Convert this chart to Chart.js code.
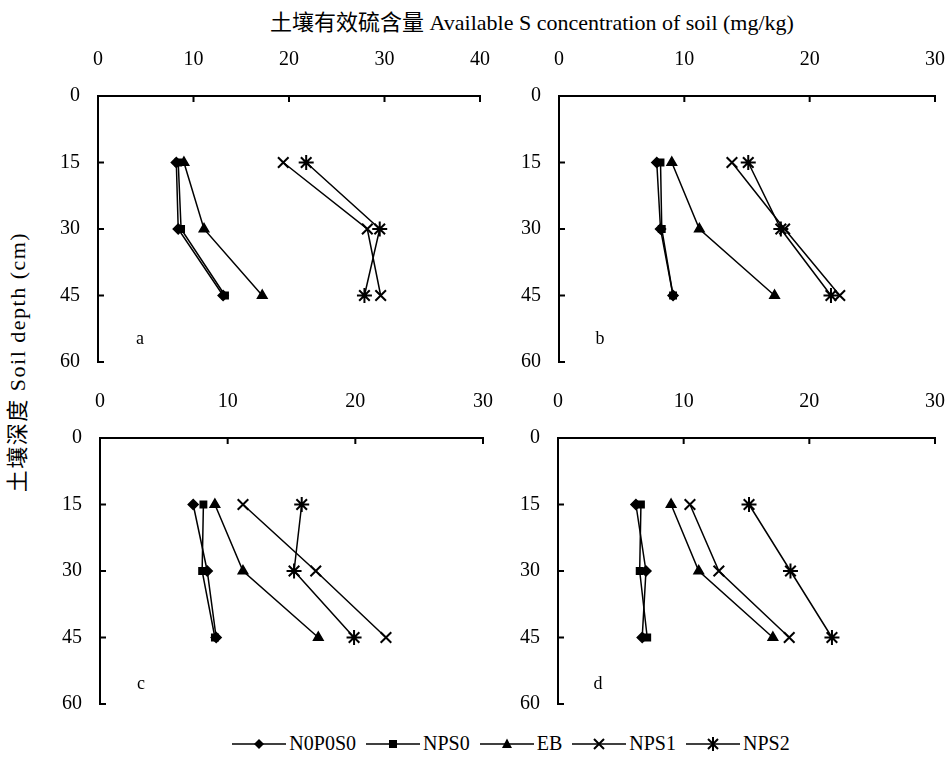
<!DOCTYPE html>
<html>
<head>
<meta charset="utf-8">
<script src="https://cdn.jsdelivr.net/npm/chart.js@4.4.1/dist/chart.umd.min.js"></script>
<style>
  body { margin: 0; background: #fff; width: 950px; height: 762px; position: relative; overflow: hidden;
         font-family: "Liberation Serif", "Times New Roman", Tinos, "DejaVu Serif", "Noto Sans CJK SC", serif; color: #000; }
  canvas { position: absolute; }
  .txt { position: absolute; white-space: nowrap; font-size: 18px; }
  #title { left: 0; width: 1064px; top: 4px; text-align: center; font-size: 22px; }
  #ytitle { left: 15px; top: 362px; transform: translate(-50%, -50%) rotate(-90deg); font-size: 22px; letter-spacing: 1.5px; }
  .tag { transform: translate(-50%, -50%); }
  #legend { position: absolute; left: 0; width: 1022px; top: 732px; display: flex; justify-content: center;
            gap: 10px; font-size: 20px; align-items: center; }
  #legend span { display: inline-flex; align-items: center; gap: 3px; }
</style>
</head>
<body>
<div class="txt" id="title">土壤有效硫含量 Available S concentration of soil (mg/kg)</div>
<div class="txt" id="ytitle">土壤深度 Soil depth (cm)</div>
<canvas id="pa"></canvas>
<canvas id="pb"></canvas>
<canvas id="pc"></canvas>
<canvas id="pd"></canvas>
<div class="txt tag" style="left:140px;top:338px">a</div>
<div class="txt tag" style="left:600px;top:338px">b</div>
<div class="txt tag" style="left:141px;top:683px">c</div>
<div class="txt tag" style="left:598px;top:683px">d</div>
<div id="legend"></div>
<script>
// soil depth (cm) and treatments
const depths = [15, 30, 45];
const seriesNames = ["N0P0S0", "NPS0", "EB", "NPS1", "NPS2"];
const depthTicks = [0, 15, 30, 45, 60];

// available S (mg/kg), one row per treatment, same order as seriesNames
const panelA = [[8.2, 8.4, 13.1], [8.4, 8.7, 13.3], [9.0, 11.1, 17.2], [19.4, 28.2, 29.6], [21.8, 29.5, 27.9]];
const panelB = [[7.8, 8.1, 9.1], [8.1, 8.2, 9.1], [9.0, 11.2, 17.2], [13.8, 18.0, 22.4], [15.1, 17.7, 21.7]];
const panelC = [[7.3, 8.4, 9.1], [8.1, 8.0, 9.0], [9.0, 11.2, 17.1], [11.2, 16.9, 22.4], [15.8, 15.2, 19.9]];
const panelD = [[6.2, 7.0, 6.7], [6.6, 6.5, 7.1], [9.0, 11.2, 17.1], [10.5, 12.8, 18.4], [15.2, 18.5, 21.8]];

const markers = [
  { pointStyle: "rectRot", pointRadius: 5, borderWidth: 1.5 },
  { pointStyle: "rect", pointRadius: 4.5, borderWidth: 1.5 },
  { pointStyle: "triangle", pointRadius: 5.5, borderWidth: 1.5 },
  { pointStyle: "crossRot", pointRadius: 7.5, borderWidth: 2 },
  { pointStyle: "star", pointRadius: 7.5, borderWidth: 2 }
];

const FONT = { family: "'Liberation Serif', 'Times New Roman', Tinos, 'DejaVu Serif', serif", size: 20 };
const Y_W = 60, X_H = 50;

// tick marks pointing into the plot, like the original
const innerTicks = {
  id: "innerTicks",
  afterDraw(chart) {
    const { ctx, chartArea, scales } = chart;
    ctx.save();
    ctx.strokeStyle = "#000";
    ctx.lineWidth = 2;
    ctx.beginPath();
    scales.x.ticks.forEach(t => {
      const px = scales.x.getPixelForValue(t.value);
      ctx.moveTo(px, chartArea.top); ctx.lineTo(px, chartArea.top + 6);
    });
    scales.y.ticks.forEach(t => {
      const py = scales.y.getPixelForValue(t.value);
      ctx.moveTo(chartArea.left, py); ctx.lineTo(chartArea.left + 6, py);
    });
    ctx.stroke();
    ctx.restore();
  }
};

function makePanel(id, rows, xMax, area) {
  const [L, T, R, B] = area;
  const cv = document.getElementById(id);
  const left = L - Y_W, top = T - X_H;
  const w = R + 15 - left, h = B + 10 - top;
  cv.style.left = left + "px"; cv.style.top = top + "px";
  cv.style.width = w + "px"; cv.style.height = h + "px";
  cv.width = w; cv.height = h;

  new Chart(cv, {
    type: "line",
    data: {
      datasets: rows.map((vals, i) => ({
        label: seriesNames[i],
        data: vals.map((v, j) => ({ x: v, y: depths[j] })),
        borderColor: "#000",
        backgroundColor: "#000",
        pointBorderColor: "#000",
        pointBackgroundColor: "#000",
        borderWidth: 1.5,
        pointStyle: markers[i].pointStyle,
        pointRadius: markers[i].pointRadius,
        pointBorderWidth: markers[i].borderWidth,
        tension: 0,
        clip: false
      }))
    },
    options: {
      responsive: false,
      animation: false,
      devicePixelRatio: 1,
      layout: { autoPadding: false, padding: { left: 0, top: 0, right: 15, bottom: 10 } },
      plugins: { legend: { display: false }, tooltip: { enabled: false } },
      scales: {
        x: {
          type: "linear", position: "top", min: 0, max: xMax,
          afterBuildTicks: s => { s.ticks = []; for (let v = 0; v <= xMax; v += 10) s.ticks.push({ value: v }); },
          afterFit: s => { s.height = X_H; s.paddingRight = 0; s.paddingLeft = 0; },
          grid: { display: true, drawOnChartArea: false, drawTicks: false },
          border: { display: true, color: "#000", width: 2 },
          ticks: { color: "#000", font: FONT, padding: 24, maxRotation: 0 }
        },
        y: {
          type: "linear", reverse: true, min: 0, max: 60,
          afterBuildTicks: s => { s.ticks = depthTicks.map(v => ({ value: v })); },
          afterFit: s => { s.width = Y_W; s.paddingTop = 0; s.paddingBottom = 0; },
          grid: { display: true, drawOnChartArea: false, drawTicks: false },
          border: { display: true, color: "#000", width: 2 },
          ticks: { color: "#000", font: FONT, padding: 18 }
        }
      }
    },
    plugins: [innerTicks]
  });
}

makePanel("pa", panelA, 40, [98, 96, 480, 362]);
makePanel("pb", panelB, 30, [559, 96, 935, 362]);
makePanel("pc", panelC, 30, [100, 438, 483, 704]);
makePanel("pd", panelD, 30, [558, 438, 935, 704]);

// legend: line with marker, then name
const svgMarks = [
  '<path d="M27 3 L32 8 L27 13 L22 8 Z" />',
  '<rect x="23" y="4" width="8" height="8" />',
  '<path d="M27 2.5 L32 12 L22 12 Z" />',
  '<path d="M22 3 L32 13 M32 3 L22 13" stroke="#000" stroke-width="2" fill="none"/>',
  '<path d="M22 3 L32 13 M32 3 L22 13 M27 1 L27 15" stroke="#000" stroke-width="2" fill="none"/>'
];
const legend = document.getElementById("legend");
seriesNames.forEach((name, i) => {
  const s = document.createElement("span");
  s.innerHTML = '<svg width="54" height="16"><line x1="0" y1="8" x2="54" y2="8" stroke="#000" stroke-width="1.5"/>' +
    svgMarks[i] + '</svg>' + name;
  legend.appendChild(s);
});
</script>
</body>
</html>
